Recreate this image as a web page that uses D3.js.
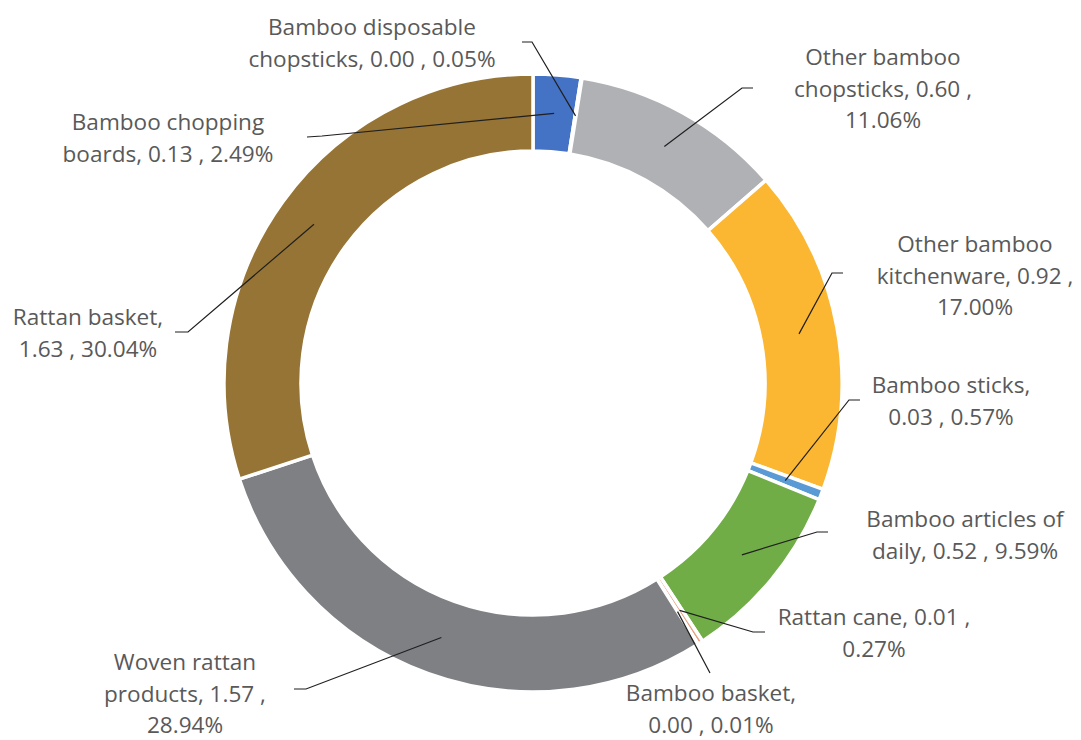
<!DOCTYPE html>
<html>
<head>
<meta charset="utf-8">
<script src="https://cdn.jsdelivr.net/npm/d3@7"></script>
<style>
  html, body { margin: 0; padding: 0; background: #ffffff; }
  svg { display: block; }
</style>
</head>
<body>
<svg id="chart" width="1081" height="740"></svg>
<script>
// ---- data ----
const categories = [
  "Bamboo chopping boards",
  "Bamboo disposable chopsticks",
  "Other bamboo chopsticks",
  "Other bamboo kitchenware",
  "Bamboo sticks",
  "Bamboo articles of daily",
  "Rattan cane",
  "Bamboo basket",
  "Woven rattan products",
  "Rattan basket"
];
const values   = [0.13, 0.00, 0.60, 0.92, 0.03, 0.52, 0.01, 0.00, 1.57, 1.63];
const percents = [2.49, 0.05, 11.06, 17.00, 0.57, 9.59, 0.27, 0.01, 28.94, 30.04];

// ---- styles ----
const colors = ["#4472C4", "#ED7D31", "#B0B1B4", "#FBB632", "#5B9BD5",
                "#70AD47", "#E9A183", "#9E480E", "#7F8084", "#967435"];

// ---- label layout (words per line, centre x, first baseline, leader elbow, leader end) ----
const labelLayout = [
  { lines: [2, 4],    cx: 168, y: 130, elbow: [322, 136], end: [307, 137] },
  { lines: [2, 4],    cx: 372, y: 35,  elbow: [532, 42],  end: [522, 42] },
  { lines: [2, 3, 1], cx: 883, y: 65,  elbow: [742, 88],  end: [753, 88] },
  { lines: [2, 3, 1], cx: 975, y: 252, elbow: [832, 273], end: [843, 273] },
  { lines: [2, 3],    cx: 951, y: 393, elbow: [849, 400], end: [860, 400] },
  { lines: [3, 4],    cx: 965, y: 527, elbow: [817, 532], end: [828, 532] },
  { lines: [4, 1],    cx: 874, y: 625, elbow: [753, 632], end: [765, 632] },
  { lines: [2, 3],    cx: 711, y: 701, elbow: [710, 673], end: [710, 673] },
  { lines: [2, 3, 1], cx: 185, y: 670, elbow: [306, 689], end: [294, 689] },
  { lines: [2, 3],    cx: 88,  y: 325, elbow: [188, 332], end: [175, 332] }
];

const W = 1081, H = 740;
const cx = 533, cy = 383;
const outerR = 309, innerR = 232;
const lineH = 31.5;
const fontFamily = "'Open Sans', sans-serif";

const svg = d3.select("#chart");
svg.append("rect").attr("width", W).attr("height", H).attr("fill", "#ffffff");

// fit font size so that "Bamboo disposable" spans ~210px
const probe = svg.append("text").attr("font-family", fontFamily).attr("font-size", 100)
  .text("Bamboo disposable");
const fontSize = 100 * 208 / probe.node().getComputedTextLength();
probe.remove();

const pie = d3.pie().sort(null).value(d => d)
  .startAngle(0).endAngle(2 * Math.PI);
const arcs = pie(percents);
const arc = d3.arc().innerRadius(innerR).outerRadius(outerR);

const g = svg.append("g").attr("transform", `translate(${cx},${cy})`);
g.selectAll("path.slice")
  .data(arcs)
  .join("path")
  .attr("class", "slice")
  .attr("d", arc)
  .attr("fill", (d, i) => colors[i])
  .attr("stroke", "#ffffff")
  .attr("stroke-width", 3.5)
  .attr("stroke-linejoin", "miter");

// leader lines
const line = d3.line();
svg.append("g").selectAll("path.leader")
  .data(arcs)
  .join("path")
  .attr("class", "leader")
  .attr("d", (d, i) => {
    const c = arc.centroid(d);
    const L = labelLayout[i];
    return line([[cx + c[0], cy + c[1]], L.elbow, L.end]);
  })
  .attr("fill", "none")
  .attr("stroke", "#1f1f1f")
  .attr("stroke-width", 1.2);

// labels
function labelText(i) {
  return `${categories[i]}, ${values[i].toFixed(2)} , ${percents[i].toFixed(2)}%`;
}
const labels = svg.append("g")
  .attr("font-family", fontFamily)
  .attr("font-size", fontSize)
  .attr("fill", "#595959")
  .attr("text-anchor", "middle");

categories.forEach((c, i) => {
  const words = labelText(i).split(" ");
  const L = labelLayout[i];
  const t = labels.append("text").attr("x", L.cx).attr("y", L.y);
  let k = 0;
  L.lines.forEach((n, j) => {
    t.append("tspan")
      .attr("x", L.cx)
      .attr("y", L.y + j * lineH)
      .text(words.slice(k, k + n).join(" "));
    k += n;
  });
});
</script>
</body>
</html>
